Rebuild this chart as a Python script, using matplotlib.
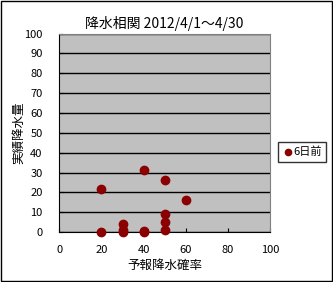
import matplotlib.pyplot as plt
from matplotlib.patches import Rectangle

plt.rcParams['font.family'] = ['Noto Sans CJK JP', 'DejaVu Sans']

# forecast probability (%) vs. actual precipitation (mm)
prob = [20, 20, 30, 30, 30, 40, 40, 40, 50, 50, 50, 50, 60]
rain = [21.5, 0, 4, 1, 0, 31.5, 0.5, 0, 26, 9, 5, 1, 16]
xticks = [0, 20, 40, 60, 80, 100]
yticks = [0, 10, 20, 30, 40, 50, 60, 70, 80, 90, 100]

fig = plt.figure(figsize=(3.33, 2.82), dpi=100)
ax = fig.add_axes([0.178, 0.177, 0.633, 0.704])
ax.set_facecolor('#c0c0c0')

ax.scatter(prob, rain, s=36, c='#8b0000', edgecolors='#8b0000', zorder=3,
           clip_on=False, label='6日前')

ax.set_xlim(0, 100)
ax.set_ylim(0, 100)
ax.set_xticks(xticks)
ax.set_yticks(yticks)
ax.grid(axis='y', color='black', linewidth=1)
ax.set_axisbelow(True)
ax.tick_params(axis='x', direction='in', length=3, labelsize=8, pad=9)
ax.tick_params(axis='y', direction='in', length=3, labelsize=8, pad=12)

for side in ['top', 'right']:
    ax.spines[side].set_color('#808080')
for side in ['left', 'bottom']:
    ax.spines[side].set_color('black')

ax.set_title('降水相関 2012/4/1～4/30', fontsize=10, pad=4)
ax.set_xlabel('予報降水確率', fontsize=9, labelpad=3)
ax.set_ylabel('実績降水量', fontsize=9, labelpad=-1)

leg = fig.legend(loc='center left', bbox_to_anchor=(0.818, 0.461),
                 fontsize=8, frameon=True, fancybox=False, handletextpad=0.0,
                 borderpad=0.4, handlelength=1.0, markerscale=0.75)
leg.get_frame().set_edgecolor('black')
leg.get_frame().set_linewidth(1)

fig.patches.append(Rectangle((0.002, 0.002), 0.994, 0.993, transform=fig.transFigure,
                             fill=False, edgecolor='black', linewidth=1))

fig.savefig('out.png', dpi=100)
